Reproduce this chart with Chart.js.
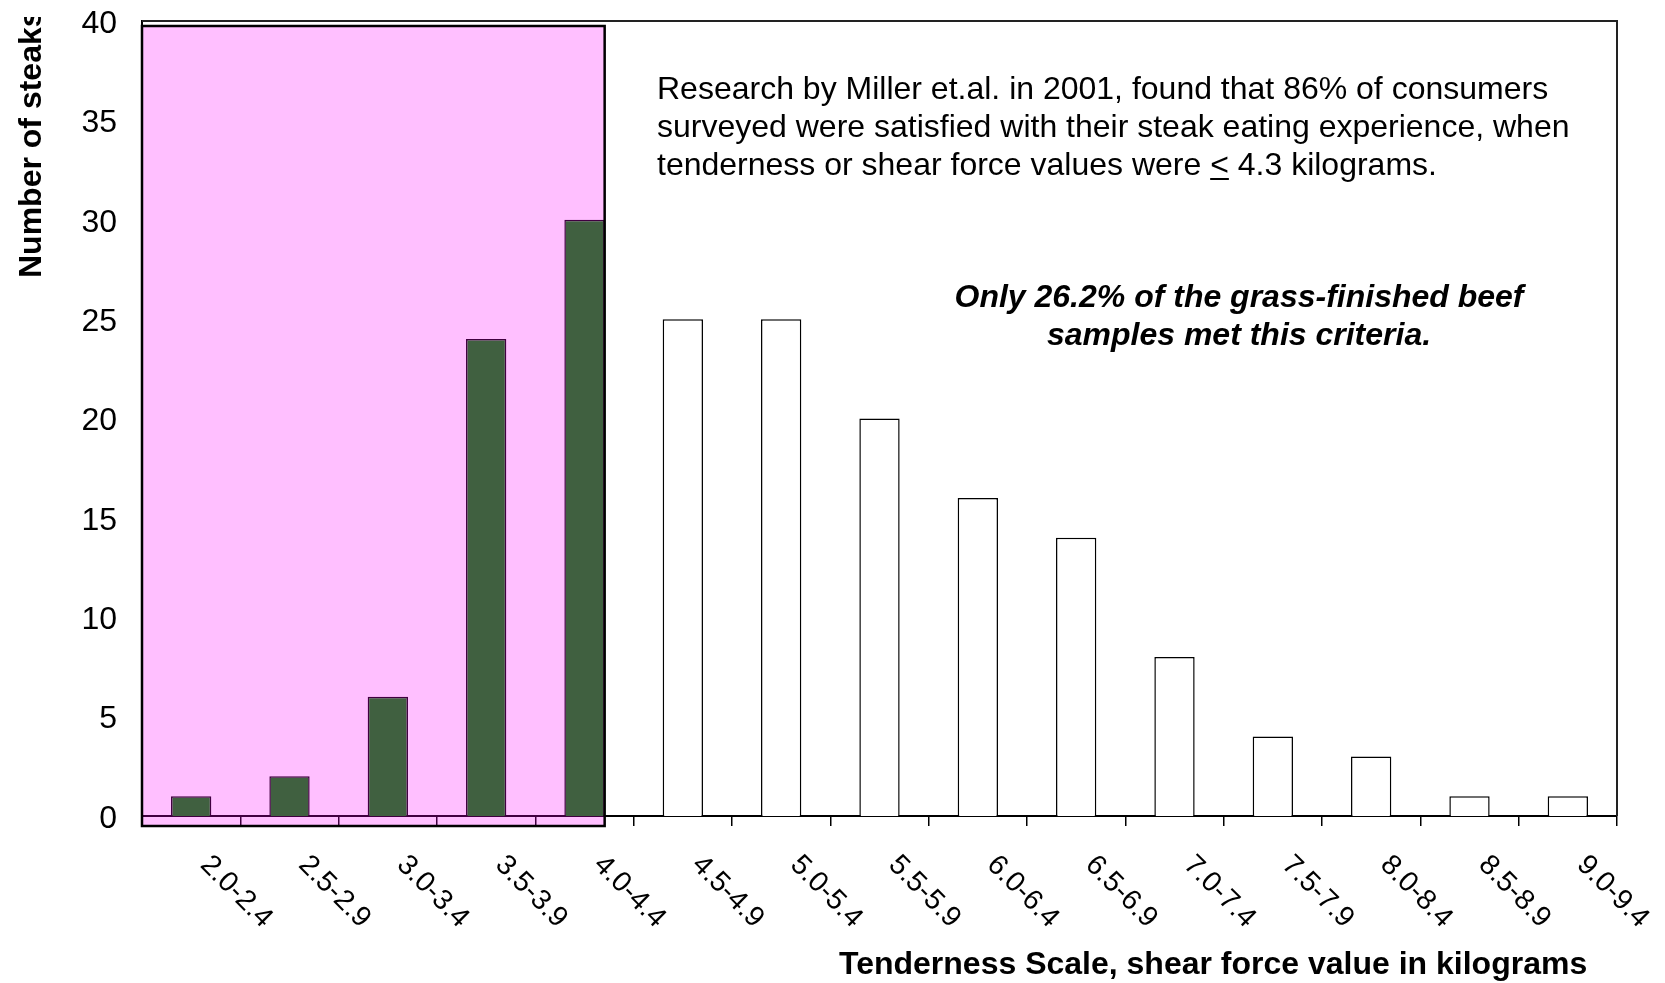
<!DOCTYPE html>
<html>
<head>
<meta charset="utf-8">
<script src="https://cdn.jsdelivr.net/npm/chart.js@4.4.0/dist/chart.umd.min.js"></script>
<style>
  html, body { margin: 0; padding: 0; background: #fff; overflow: hidden; }
  canvas { display: block; }
</style>
</head>
<body>
<canvas id="chart" width="1665" height="983"></canvas>
<script>
// Shear-force bins (kg) and number of steaks in each bin
const categories = ['2.0-2.4', '2.5-2.9', '3.0-3.4', '3.5-3.9', '4.0-4.4', '4.5-4.9', '5.0-5.4',
  '5.5-5.9', '6.0-6.4', '6.5-6.9', '7.0-7.4', '7.5-7.9', '8.0-8.4', '8.5-8.9', '9.0-9.4'];
const steakCounts = [1, 2, 6, 24, 30, 25, 25, 20, 16, 14, 8, 4, 3, 1, 1];
const yTickValues = [0, 5, 10, 15, 20, 25, 30, 35, 40];
const tenderBinCount = 5;   // bins 2.0 through 4.4 kg are shaded as "tender"

const yTitle = 'Number of steaks';
const xTitle = 'Tenderness Scale, shear force value in kilograms';
// segments wrapped in _..._ are underlined
const noteLines = [
  'Research by Miller et.al. in 2001, found that 86% of consumers',
  'surveyed were satisfied with their steak eating experience, when',
  'tenderness or shear force values were _<_ 4.3 kilograms.'
];
const highlightLines = [
  'Only 26.2% of the grass-finished beef',
  'samples met this criteria.'
];

const FONT = '"Liberation Sans", Arial, Helvetica, sans-serif';

const barFill = steakCounts.map((v, i) => i < tenderBinCount ? '#008000' : '#ffffff');

const decorations = {
  id: 'decorations',
  afterDatasetsDraw(chart) {
    const { ctx, chartArea } = chart;
    const meta = chart.getDatasetMeta(0);
    const lastTender = meta.data[tenderBinCount - 1];
    const right = lastTender.x + lastTender.width / 2;
    const left = chartArea.left;
    const top = chartArea.top + 5;
    const bottom = chartArea.bottom + 10;
    ctx.save();
    ctx.fillStyle = 'rgba(255, 0, 255, 0.25)';
    ctx.fillRect(left, top, right - left, bottom - top);
    ctx.strokeStyle = '#000';
    ctx.lineWidth = 2.5;
    ctx.strokeRect(left, top, right - left, bottom - top);
    ctx.restore();
  },
  afterDraw(chart) {
    const { ctx, chartArea, scales } = chart;
    ctx.save();

    // plot area frame (top and right edges)
    ctx.strokeStyle = '#222';
    ctx.lineWidth = 2;
    ctx.beginPath();
    ctx.moveTo(chartArea.left, chartArea.top);
    ctx.lineTo(chartArea.right, chartArea.top);
    ctx.lineTo(chartArea.right, chartArea.bottom);
    ctx.stroke();

    ctx.fillStyle = '#000';

    // category labels, rotated downward
    ctx.font = '28.5px ' + FONT;
    ctx.textAlign = 'left';
    ctx.textBaseline = 'alphabetic';
    categories.forEach((label, i) => {
      const x = scales.x.getPixelForValue(i) + 8;
      const y = chartArea.bottom + 50;
      ctx.save();
      ctx.translate(x, y);
      ctx.rotate(Math.PI / 4);
      ctx.fillText(label, 0, 0);
      ctx.restore();
    });

    // y-axis title (clipped at the top of the chart box)
    ctx.save();
    ctx.beginPath();
    ctx.rect(0, 17, chartArea.left - 4, chart.height);
    ctx.clip();
    ctx.font = 'bold 32px ' + FONT;
    ctx.translate(41, 278);
    ctx.rotate(-Math.PI / 2);
    ctx.fillText(yTitle, 0, 0);
    ctx.restore();

    // x-axis title
    ctx.font = 'bold 32px ' + FONT;
    ctx.textAlign = 'left';
    ctx.fillText(xTitle, 839, 974);

    // research note
    ctx.font = '32px ' + FONT;
    noteLines.forEach((line, i) => {
      const y = 99 + i * 38;
      let x = 657;
      line.split('_').forEach((seg, k) => {
        ctx.fillText(seg, x, y);
        const w = ctx.measureText(seg).width;
        if (k % 2 === 1) {
          ctx.fillRect(x, y + 3, w, 2);
        }
        x += w;
      });
    });

    // highlighted finding
    ctx.font = 'italic bold 32px ' + FONT;
    ctx.textAlign = 'center';
    highlightLines.forEach((line, i) => {
      ctx.fillText(line, 1239, 307 + i * 38);
    });

    ctx.restore();
  }
};

new Chart(document.getElementById('chart'), {
  type: 'bar',
  data: {
    labels: categories,
    datasets: [{
      data: steakCounts,
      backgroundColor: barFill,
      borderColor: '#000',
      borderWidth: 1.5,
      borderSkipped: 'bottom',
      categoryPercentage: 1.0,
      barPercentage: 0.41
    }]
  },
  options: {
    responsive: false,
    animation: false,
    devicePixelRatio: 1,
    layout: { padding: { left: 0, top: 21, right: 48, bottom: 0 } },
    plugins: {
      legend: { display: false },
      tooltip: { enabled: false },
      title: { display: false }
    },
    scales: {
      x: {
        offset: true,
        grid: {
          display: true,
          offset: true,
          drawOnChartArea: false,
          drawTicks: true,
          tickLength: 10,
          color: '#000',
          lineWidth: 1.5
        },
        border: { display: true, color: '#000', width: 2 },
        ticks: { display: false, autoSkip: false },
        afterFit(scale) {
          scale.height = 167;
          scale.paddingLeft = 0;
          scale.paddingRight = 0;
        }
      },
      y: {
        min: 0,
        max: 40,
        afterBuildTicks(scale) { scale.ticks = yTickValues.map(v => ({ value: v })); },
        ticks: {
          color: '#000',
          padding: 25,
          labelOffset: 3,
          font: { family: FONT, size: 32 }
        },
        grid: { display: false, drawTicks: false },
        border: { display: true, color: '#000', width: 2 },
        afterFit(scale) {
          scale.width = 142;
          scale.paddingTop = 0;
          scale.paddingBottom = 0;
        }
      }
    }
  },
  plugins: [decorations]
});
</script>
</body>
</html>
